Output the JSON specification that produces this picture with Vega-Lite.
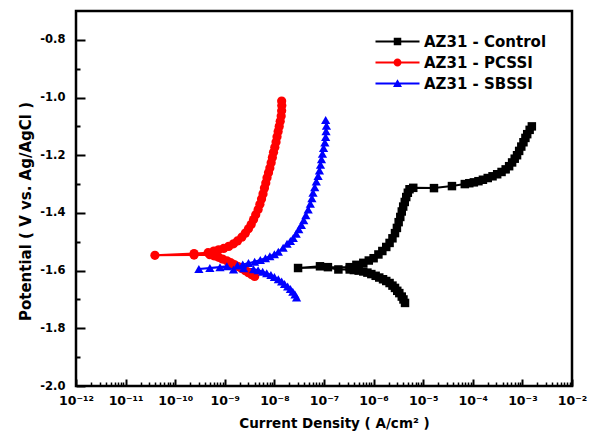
{
  "$schema": "https://vega.github.io/schema/vega-lite/v6.json",
  "width": 496,
  "height": 375,
  "autosize": "none",
  "padding": {"left": 76, "top": 11, "right": 18, "bottom": 57},
  "background": "white",
  "config": {
    "font": "DejaVu Sans",
    "view": {"stroke": "black", "strokeWidth": 2.5},
    "axis": {"grid": false, "domain": false, "tickColor": "black", "labelColor": "black", "titleColor": "black", "labelFontWeight": "bold", "titleFontWeight": "bold", "labelFont": "DejaVu Sans", "titleFont": "DejaVu Sans"}
  },
  "data": {
    "values": [
      {"sample": "AZ31 - Control", "order": 1, "current": 4.3e-6, "potential": -1.712},
      {"sample": "AZ31 - Control", "order": 2, "current": 4.0e-6, "potential": -1.700},
      {"sample": "AZ31 - Control", "order": 3, "current": 3.7e-6, "potential": -1.690},
      {"sample": "AZ31 - Control", "order": 4, "current": 3.3e-6, "potential": -1.678},
      {"sample": "AZ31 - Control", "order": 5, "current": 3.0e-6, "potential": -1.670},
      {"sample": "AZ31 - Control", "order": 6, "current": 2.7e-6, "potential": -1.660},
      {"sample": "AZ31 - Control", "order": 7, "current": 2.4e-6, "potential": -1.652},
      {"sample": "AZ31 - Control", "order": 8, "current": 2.1e-6, "potential": -1.643},
      {"sample": "AZ31 - Control", "order": 9, "current": 1.8e-6, "potential": -1.636},
      {"sample": "AZ31 - Control", "order": 10, "current": 1.55e-6, "potential": -1.630},
      {"sample": "AZ31 - Control", "order": 11, "current": 1.3e-6, "potential": -1.624},
      {"sample": "AZ31 - Control", "order": 12, "current": 1.1e-6, "potential": -1.618},
      {"sample": "AZ31 - Control", "order": 13, "current": 9.0e-7, "potential": -1.612},
      {"sample": "AZ31 - Control", "order": 14, "current": 7.5e-7, "potential": -1.607},
      {"sample": "AZ31 - Control", "order": 15, "current": 6.2e-7, "potential": -1.603},
      {"sample": "AZ31 - Control", "order": 16, "current": 5.0e-7, "potential": -1.600},
      {"sample": "AZ31 - Control", "order": 17, "current": 4.0e-7, "potential": -1.598},
      {"sample": "AZ31 - Control", "order": 18, "current": 3.3e-7, "potential": -1.596},
      {"sample": "AZ31 - Control", "order": 19, "current": 1.95e-7, "potential": -1.596},
      {"sample": "AZ31 - Control", "order": 20, "current": 8.3e-8, "potential": -1.585},
      {"sample": "AZ31 - Control", "order": 21, "current": 3.0e-8, "potential": -1.591},
      {"sample": "AZ31 - Control", "order": 22, "current": 1.2e-7, "potential": -1.588},
      {"sample": "AZ31 - Control", "order": 23, "current": 3.3e-7, "potential": -1.588},
      {"sample": "AZ31 - Control", "order": 24, "current": 4.5e-7, "potential": -1.580},
      {"sample": "AZ31 - Control", "order": 25, "current": 6.2e-7, "potential": -1.573},
      {"sample": "AZ31 - Control", "order": 26, "current": 8.0e-7, "potential": -1.565},
      {"sample": "AZ31 - Control", "order": 27, "current": 1.0e-6, "potential": -1.557},
      {"sample": "AZ31 - Control", "order": 28, "current": 1.25e-6, "potential": -1.544},
      {"sample": "AZ31 - Control", "order": 29, "current": 1.5e-6, "potential": -1.532},
      {"sample": "AZ31 - Control", "order": 30, "current": 1.8e-6, "potential": -1.518},
      {"sample": "AZ31 - Control", "order": 31, "current": 2.1e-6, "potential": -1.504},
      {"sample": "AZ31 - Control", "order": 32, "current": 2.4e-6, "potential": -1.488},
      {"sample": "AZ31 - Control", "order": 33, "current": 2.7e-6, "potential": -1.470},
      {"sample": "AZ31 - Control", "order": 34, "current": 2.95e-6, "potential": -1.452},
      {"sample": "AZ31 - Control", "order": 35, "current": 3.2e-6, "potential": -1.432},
      {"sample": "AZ31 - Control", "order": 36, "current": 3.45e-6, "potential": -1.414},
      {"sample": "AZ31 - Control", "order": 37, "current": 3.7e-6, "potential": -1.395},
      {"sample": "AZ31 - Control", "order": 38, "current": 3.95e-6, "potential": -1.378},
      {"sample": "AZ31 - Control", "order": 39, "current": 4.25e-6, "potential": -1.362},
      {"sample": "AZ31 - Control", "order": 40, "current": 4.55e-6, "potential": -1.345},
      {"sample": "AZ31 - Control", "order": 41, "current": 4.9e-6, "potential": -1.330},
      {"sample": "AZ31 - Control", "order": 42, "current": 5.3e-6, "potential": -1.318},
      {"sample": "AZ31 - Control", "order": 43, "current": 6.3e-6, "potential": -1.313},
      {"sample": "AZ31 - Control", "order": 44, "current": 1.65e-5, "potential": -1.314},
      {"sample": "AZ31 - Control", "order": 45, "current": 3.8e-5, "potential": -1.307},
      {"sample": "AZ31 - Control", "order": 46, "current": 6.9e-5, "potential": -1.300},
      {"sample": "AZ31 - Control", "order": 47, "current": 8.5e-5, "potential": -1.297},
      {"sample": "AZ31 - Control", "order": 48, "current": 1.05e-4, "potential": -1.294},
      {"sample": "AZ31 - Control", "order": 49, "current": 1.3e-4, "potential": -1.290},
      {"sample": "AZ31 - Control", "order": 50, "current": 1.6e-4, "potential": -1.285},
      {"sample": "AZ31 - Control", "order": 51, "current": 2.0e-4, "potential": -1.279},
      {"sample": "AZ31 - Control", "order": 52, "current": 2.5e-4, "potential": -1.273},
      {"sample": "AZ31 - Control", "order": 53, "current": 3.1e-4, "potential": -1.266},
      {"sample": "AZ31 - Control", "order": 54, "current": 3.8e-4, "potential": -1.258},
      {"sample": "AZ31 - Control", "order": 55, "current": 4.6e-4, "potential": -1.249},
      {"sample": "AZ31 - Control", "order": 56, "current": 5.4e-4, "potential": -1.238},
      {"sample": "AZ31 - Control", "order": 57, "current": 6.2e-4, "potential": -1.225},
      {"sample": "AZ31 - Control", "order": 58, "current": 7.0e-4, "potential": -1.212},
      {"sample": "AZ31 - Control", "order": 59, "current": 7.8e-4, "potential": -1.200},
      {"sample": "AZ31 - Control", "order": 60, "current": 8.6e-4, "potential": -1.185},
      {"sample": "AZ31 - Control", "order": 61, "current": 9.5e-4, "potential": -1.170},
      {"sample": "AZ31 - Control", "order": 62, "current": 1.05e-3, "potential": -1.155},
      {"sample": "AZ31 - Control", "order": 63, "current": 1.15e-3, "potential": -1.140},
      {"sample": "AZ31 - Control", "order": 64, "current": 1.25e-3, "potential": -1.127},
      {"sample": "AZ31 - Control", "order": 65, "current": 1.4e-3, "potential": -1.112},
      {"sample": "AZ31 - Control", "order": 66, "current": 1.55e-3, "potential": -1.100},

      {"sample": "AZ31 - PCSSI", "order": 1, "current": 4.0e-9, "potential": -1.620},
      {"sample": "AZ31 - PCSSI", "order": 2, "current": 3.5e-9, "potential": -1.614},
      {"sample": "AZ31 - PCSSI", "order": 3, "current": 3.0e-9, "potential": -1.607},
      {"sample": "AZ31 - PCSSI", "order": 4, "current": 2.6e-9, "potential": -1.600},
      {"sample": "AZ31 - PCSSI", "order": 5, "current": 2.2e-9, "potential": -1.593},
      {"sample": "AZ31 - PCSSI", "order": 6, "current": 1.85e-9, "potential": -1.586},
      {"sample": "AZ31 - PCSSI", "order": 7, "current": 1.55e-9, "potential": -1.579},
      {"sample": "AZ31 - PCSSI", "order": 8, "current": 1.3e-9, "potential": -1.572},
      {"sample": "AZ31 - PCSSI", "order": 9, "current": 1.1e-9, "potential": -1.566},
      {"sample": "AZ31 - PCSSI", "order": 10, "current": 9.0e-10, "potential": -1.560},
      {"sample": "AZ31 - PCSSI", "order": 11, "current": 7.5e-10, "potential": -1.554},
      {"sample": "AZ31 - PCSSI", "order": 12, "current": 6.2e-10, "potential": -1.549},
      {"sample": "AZ31 - PCSSI", "order": 13, "current": 5.0e-10, "potential": -1.545},
      {"sample": "AZ31 - PCSSI", "order": 14, "current": 2.4e-10, "potential": -1.546},
      {"sample": "AZ31 - PCSSI", "order": 15, "current": 3.9e-11, "potential": -1.547},
      {"sample": "AZ31 - PCSSI", "order": 16, "current": 2.4e-10, "potential": -1.541},
      {"sample": "AZ31 - PCSSI", "order": 17, "current": 4.6e-10, "potential": -1.538},
      {"sample": "AZ31 - PCSSI", "order": 18, "current": 6.0e-10, "potential": -1.532},
      {"sample": "AZ31 - PCSSI", "order": 19, "current": 7.5e-10, "potential": -1.528},
      {"sample": "AZ31 - PCSSI", "order": 20, "current": 9.5e-10, "potential": -1.523},
      {"sample": "AZ31 - PCSSI", "order": 21, "current": 1.2e-9, "potential": -1.516},
      {"sample": "AZ31 - PCSSI", "order": 22, "current": 1.5e-9, "potential": -1.507},
      {"sample": "AZ31 - PCSSI", "order": 23, "current": 1.8e-9, "potential": -1.497},
      {"sample": "AZ31 - PCSSI", "order": 24, "current": 2.2e-9, "potential": -1.484},
      {"sample": "AZ31 - PCSSI", "order": 25, "current": 2.6e-9, "potential": -1.470},
      {"sample": "AZ31 - PCSSI", "order": 26, "current": 3.0e-9, "potential": -1.455},
      {"sample": "AZ31 - PCSSI", "order": 27, "current": 3.4e-9, "potential": -1.440},
      {"sample": "AZ31 - PCSSI", "order": 28, "current": 3.8e-9, "potential": -1.423},
      {"sample": "AZ31 - PCSSI", "order": 29, "current": 4.2e-9, "potential": -1.406},
      {"sample": "AZ31 - PCSSI", "order": 30, "current": 4.7e-9, "potential": -1.388},
      {"sample": "AZ31 - PCSSI", "order": 31, "current": 5.1e-9, "potential": -1.370},
      {"sample": "AZ31 - PCSSI", "order": 32, "current": 5.5e-9, "potential": -1.352},
      {"sample": "AZ31 - PCSSI", "order": 33, "current": 5.9e-9, "potential": -1.334},
      {"sample": "AZ31 - PCSSI", "order": 34, "current": 6.3e-9, "potential": -1.314},
      {"sample": "AZ31 - PCSSI", "order": 35, "current": 6.7e-9, "potential": -1.296},
      {"sample": "AZ31 - PCSSI", "order": 36, "current": 7.1e-9, "potential": -1.278},
      {"sample": "AZ31 - PCSSI", "order": 37, "current": 7.6e-9, "potential": -1.261},
      {"sample": "AZ31 - PCSSI", "order": 38, "current": 8.1e-9, "potential": -1.244},
      {"sample": "AZ31 - PCSSI", "order": 39, "current": 8.6e-9, "potential": -1.226},
      {"sample": "AZ31 - PCSSI", "order": 40, "current": 9.1e-9, "potential": -1.208},
      {"sample": "AZ31 - PCSSI", "order": 41, "current": 9.6e-9, "potential": -1.190},
      {"sample": "AZ31 - PCSSI", "order": 42, "current": 1.02e-8, "potential": -1.172},
      {"sample": "AZ31 - PCSSI", "order": 43, "current": 1.08e-8, "potential": -1.154},
      {"sample": "AZ31 - PCSSI", "order": 44, "current": 1.13e-8, "potential": -1.136},
      {"sample": "AZ31 - PCSSI", "order": 45, "current": 1.19e-8, "potential": -1.118},
      {"sample": "AZ31 - PCSSI", "order": 46, "current": 1.25e-8, "potential": -1.100},
      {"sample": "AZ31 - PCSSI", "order": 47, "current": 1.31e-8, "potential": -1.082},
      {"sample": "AZ31 - PCSSI", "order": 48, "current": 1.37e-8, "potential": -1.064},
      {"sample": "AZ31 - PCSSI", "order": 49, "current": 1.40e-8, "potential": -1.046},
      {"sample": "AZ31 - PCSSI", "order": 50, "current": 1.41e-8, "potential": -1.028},
      {"sample": "AZ31 - PCSSI", "order": 51, "current": 1.40e-8, "potential": -1.012},

      {"sample": "AZ31 - SBSSI", "order": 1, "current": 2.8e-8, "potential": -1.693},
      {"sample": "AZ31 - SBSSI", "order": 2, "current": 2.6e-8, "potential": -1.683},
      {"sample": "AZ31 - SBSSI", "order": 3, "current": 2.35e-8, "potential": -1.673},
      {"sample": "AZ31 - SBSSI", "order": 4, "current": 2.1e-8, "potential": -1.664},
      {"sample": "AZ31 - SBSSI", "order": 5, "current": 1.85e-8, "potential": -1.655},
      {"sample": "AZ31 - SBSSI", "order": 6, "current": 1.6e-8, "potential": -1.646},
      {"sample": "AZ31 - SBSSI", "order": 7, "current": 1.4e-8, "potential": -1.638},
      {"sample": "AZ31 - SBSSI", "order": 8, "current": 1.2e-8, "potential": -1.630},
      {"sample": "AZ31 - SBSSI", "order": 9, "current": 1.0e-8, "potential": -1.622},
      {"sample": "AZ31 - SBSSI", "order": 10, "current": 8.5e-9, "potential": -1.615},
      {"sample": "AZ31 - SBSSI", "order": 11, "current": 7.0e-9, "potential": -1.609},
      {"sample": "AZ31 - SBSSI", "order": 12, "current": 5.8e-9, "potential": -1.604},
      {"sample": "AZ31 - SBSSI", "order": 13, "current": 4.7e-9, "potential": -1.599},
      {"sample": "AZ31 - SBSSI", "order": 14, "current": 3.8e-9, "potential": -1.595},
      {"sample": "AZ31 - SBSSI", "order": 15, "current": 2.4e-9, "potential": -1.592},
      {"sample": "AZ31 - SBSSI", "order": 16, "current": 1.5e-9, "potential": -1.596},
      {"sample": "AZ31 - SBSSI", "order": 17, "current": 1.1e-9, "potential": -1.585},
      {"sample": "AZ31 - SBSSI", "order": 18, "current": 5.0e-10, "potential": -1.591},
      {"sample": "AZ31 - SBSSI", "order": 19, "current": 3.0e-10, "potential": -1.594},
      {"sample": "AZ31 - SBSSI", "order": 20, "current": 8.0e-10, "potential": -1.588},
      {"sample": "AZ31 - SBSSI", "order": 21, "current": 1.8e-9, "potential": -1.582},
      {"sample": "AZ31 - SBSSI", "order": 22, "current": 2.3e-9, "potential": -1.579},
      {"sample": "AZ31 - SBSSI", "order": 23, "current": 3.0e-9, "potential": -1.574},
      {"sample": "AZ31 - SBSSI", "order": 24, "current": 4.0e-9, "potential": -1.569},
      {"sample": "AZ31 - SBSSI", "order": 25, "current": 5.2e-9, "potential": -1.563},
      {"sample": "AZ31 - SBSSI", "order": 26, "current": 6.6e-9, "potential": -1.557},
      {"sample": "AZ31 - SBSSI", "order": 27, "current": 8.1e-9, "potential": -1.550},
      {"sample": "AZ31 - SBSSI", "order": 28, "current": 1.0e-8, "potential": -1.543},
      {"sample": "AZ31 - SBSSI", "order": 29, "current": 1.2e-8, "potential": -1.535},
      {"sample": "AZ31 - SBSSI", "order": 30, "current": 1.5e-8, "potential": -1.521},
      {"sample": "AZ31 - SBSSI", "order": 31, "current": 1.8e-8, "potential": -1.507},
      {"sample": "AZ31 - SBSSI", "order": 32, "current": 2.1e-8, "potential": -1.497},
      {"sample": "AZ31 - SBSSI", "order": 33, "current": 2.4e-8, "potential": -1.487},
      {"sample": "AZ31 - SBSSI", "order": 34, "current": 2.75e-8, "potential": -1.472},
      {"sample": "AZ31 - SBSSI", "order": 35, "current": 3.1e-8, "potential": -1.457},
      {"sample": "AZ31 - SBSSI", "order": 36, "current": 3.5e-8, "potential": -1.442},
      {"sample": "AZ31 - SBSSI", "order": 37, "current": 3.9e-8, "potential": -1.425},
      {"sample": "AZ31 - SBSSI", "order": 38, "current": 4.3e-8, "potential": -1.408},
      {"sample": "AZ31 - SBSSI", "order": 39, "current": 4.8e-8, "potential": -1.388},
      {"sample": "AZ31 - SBSSI", "order": 40, "current": 5.3e-8, "potential": -1.368},
      {"sample": "AZ31 - SBSSI", "order": 41, "current": 5.7e-8, "potential": -1.349},
      {"sample": "AZ31 - SBSSI", "order": 42, "current": 6.0e-8, "potential": -1.330},
      {"sample": "AZ31 - SBSSI", "order": 43, "current": 6.5e-8, "potential": -1.311},
      {"sample": "AZ31 - SBSSI", "order": 44, "current": 7.0e-8, "potential": -1.291},
      {"sample": "AZ31 - SBSSI", "order": 45, "current": 7.6e-8, "potential": -1.272},
      {"sample": "AZ31 - SBSSI", "order": 46, "current": 8.1e-8, "potential": -1.253},
      {"sample": "AZ31 - SBSSI", "order": 47, "current": 8.5e-8, "potential": -1.233},
      {"sample": "AZ31 - SBSSI", "order": 48, "current": 8.9e-8, "potential": -1.214},
      {"sample": "AZ31 - SBSSI", "order": 49, "current": 9.3e-8, "potential": -1.195},
      {"sample": "AZ31 - SBSSI", "order": 50, "current": 9.8e-8, "potential": -1.175},
      {"sample": "AZ31 - SBSSI", "order": 51, "current": 1.04e-7, "potential": -1.156},
      {"sample": "AZ31 - SBSSI", "order": 52, "current": 1.08e-7, "potential": -1.137},
      {"sample": "AZ31 - SBSSI", "order": 53, "current": 1.1e-7, "potential": -1.117},
      {"sample": "AZ31 - SBSSI", "order": 54, "current": 1.12e-7, "potential": -1.098},
      {"sample": "AZ31 - SBSSI", "order": 55, "current": 1.08e-7, "potential": -1.078}
    ]
  },
  "layer": [
    {
      "mark": {"type": "line", "strokeWidth": 2},
      "encoding": {
        "x": {
          "field": "current", "type": "quantitative",
          "scale": {"type": "log", "domain": [1e-12, 1e-2]},
          "axis": {
            "values": [1e-12, 1e-11, 1e-10, 1e-9, 1e-8, 1e-7, 1e-6, 1e-5, 1e-4, 1e-3, 1e-2],
            "labelExpr": "'10' + ['⁻¹²','⁻¹¹','⁻¹⁰','⁻⁹','⁻⁸','⁻⁷','⁻⁶','⁻⁵','⁻⁴','⁻³','⁻²'][round(log(datum.value)/LN10)+12]",
            "tickSize": -7, "tickWidth": 2, "labelPadding": 15, "labelFontSize": 12.5, "labelFontWeight": "bold",
            "labelFlush": false, "labelOverlap": false,
            "title": "Current Density ( A/cm² )", "titleFontSize": 13.5, "titlePadding": 10, "titleX": 258
          }
        },
        "y": {
          "field": "potential", "type": "quantitative",
          "scale": {"domain": [-2.0, -0.7], "nice": false, "zero": false},
          "axis": {
            "values": [-2.0, -1.8, -1.6, -1.4, -1.2, -1.0, -0.8],
            "labelExpr": "replace(format(datum.value, '.1f'), '−', '-')",
            "tickSize": -9, "tickWidth": 2, "labelPadding": 20, "labelFontSize": 11.5, "labelFontWeight": "bold",
            "labelFlush": false, "labelOverlap": false,
            "title": "Potential ( V vs. Ag/AgCl )", "titleFontSize": 15, "titlePadding": 6, "titleY": 200
          }
        },
        "color": {
          "field": "sample", "type": "nominal",
          "scale": {"domain": ["AZ31 - Control", "AZ31 - PCSSI", "AZ31 - SBSSI"], "range": ["#000000", "#ff0000", "#0000ff"]},
          "legend": {
            "title": null, "orient": "none", "legendX": 314, "legendY": 23, "padding": 0,
            "labelFont": "DejaVu Sans", "labelFontWeight": "bold", "labelFontSize": 15, "labelColor": "black",
            "symbolSize": 100, "labelOffset": 19, "rowPadding": 5,
            "encode": {
              "symbols": {
                "update": {
                  "shape": {"signal": "datum.value === 'AZ31 - Control' ? 'M-4.4,-0.2H4.4V0.2H-4.4Z M-0.75,-0.75H0.75V0.75H-0.75Z' : datum.value === 'AZ31 - PCSSI' ? 'M-4.4,-0.2H4.4V0.2H-4.4Z M-0.8,0A0.8,0.8 0 1,1 0.8,0A0.8,0.8 0 1,1 -0.8,0Z' : 'M-4.4,-0.2H4.4V0.2H-4.4Z M0,-0.85L0.9,0.7H-0.9Z'"},
                  "fill": {"signal": "datum.value === 'AZ31 - Control' ? '#000000' : datum.value === 'AZ31 - PCSSI' ? '#ff0000' : '#0000ff'"},
                  "stroke": {"value": "transparent"},
                  "strokeWidth": {"value": 0},
                  "opacity": {"value": 1},
                  "fillOpacity": {"value": 1}
                }
              }
            }
          }
        },
        "order": {"field": "order", "type": "quantitative"}
      }
    },
    {
      "transform": [{"filter": "datum.sample === 'AZ31 - Control'"}],
      "mark": {"type": "point", "shape": "square", "filled": true, "opacity": 1, "size": 72, "color": "#000000"},
      "encoding": {
        "x": {
          "field": "current", "type": "quantitative",
          "axis": {
            "orient": "bottom",
            "values": [2e-12,3e-12,4e-12,5e-12,6e-12,7e-12,8e-12,9e-12,2e-11,3e-11,4e-11,5e-11,6e-11,7e-11,8e-11,9e-11,2e-10,3e-10,4e-10,5e-10,6e-10,7e-10,8e-10,9e-10,2e-9,3e-9,4e-9,5e-9,6e-9,7e-9,8e-9,9e-9,2e-8,3e-8,4e-8,5e-8,6e-8,7e-8,8e-8,9e-8,2e-7,3e-7,4e-7,5e-7,6e-7,7e-7,8e-7,9e-7,2e-6,3e-6,4e-6,5e-6,6e-6,7e-6,8e-6,9e-6,2e-5,3e-5,4e-5,5e-5,6e-5,7e-5,8e-5,9e-5,2e-4,3e-4,4e-4,5e-4,6e-4,7e-4,8e-4,9e-4,2e-3,3e-3,4e-3,5e-3,6e-3,7e-3,8e-3,9e-3],
            "labels": false, "title": null, "tickSize": -4, "tickWidth": 1.5
          }
        },
        "y": {
          "field": "potential", "type": "quantitative",
          "axis": {
            "orient": "left",
            "values": [-1.9, -1.7, -1.5, -1.3, -1.1, -0.9],
            "labels": false, "title": null, "tickSize": -4, "tickWidth": 2
          }
        }
      }
    },
    {
      "transform": [{"filter": "datum.sample === 'AZ31 - PCSSI'"}],
      "mark": {"type": "point", "shape": "circle", "filled": true, "opacity": 1, "size": 85, "color": "#ff0000"},
      "encoding": {
        "x": {"field": "current", "type": "quantitative", "axis": null},
        "y": {"field": "potential", "type": "quantitative", "axis": null}
      }
    },
    {
      "transform": [{"filter": "datum.sample === 'AZ31 - SBSSI'"}],
      "mark": {"type": "point", "shape": "triangle-up", "filled": true, "opacity": 1, "size": 85, "color": "#0000ff"},
      "encoding": {
        "x": {"field": "current", "type": "quantitative", "axis": null},
        "y": {"field": "potential", "type": "quantitative", "axis": null}
      }
    }
  ],
  "resolve": {"axis": {"x": "independent", "y": "independent"}}
}
